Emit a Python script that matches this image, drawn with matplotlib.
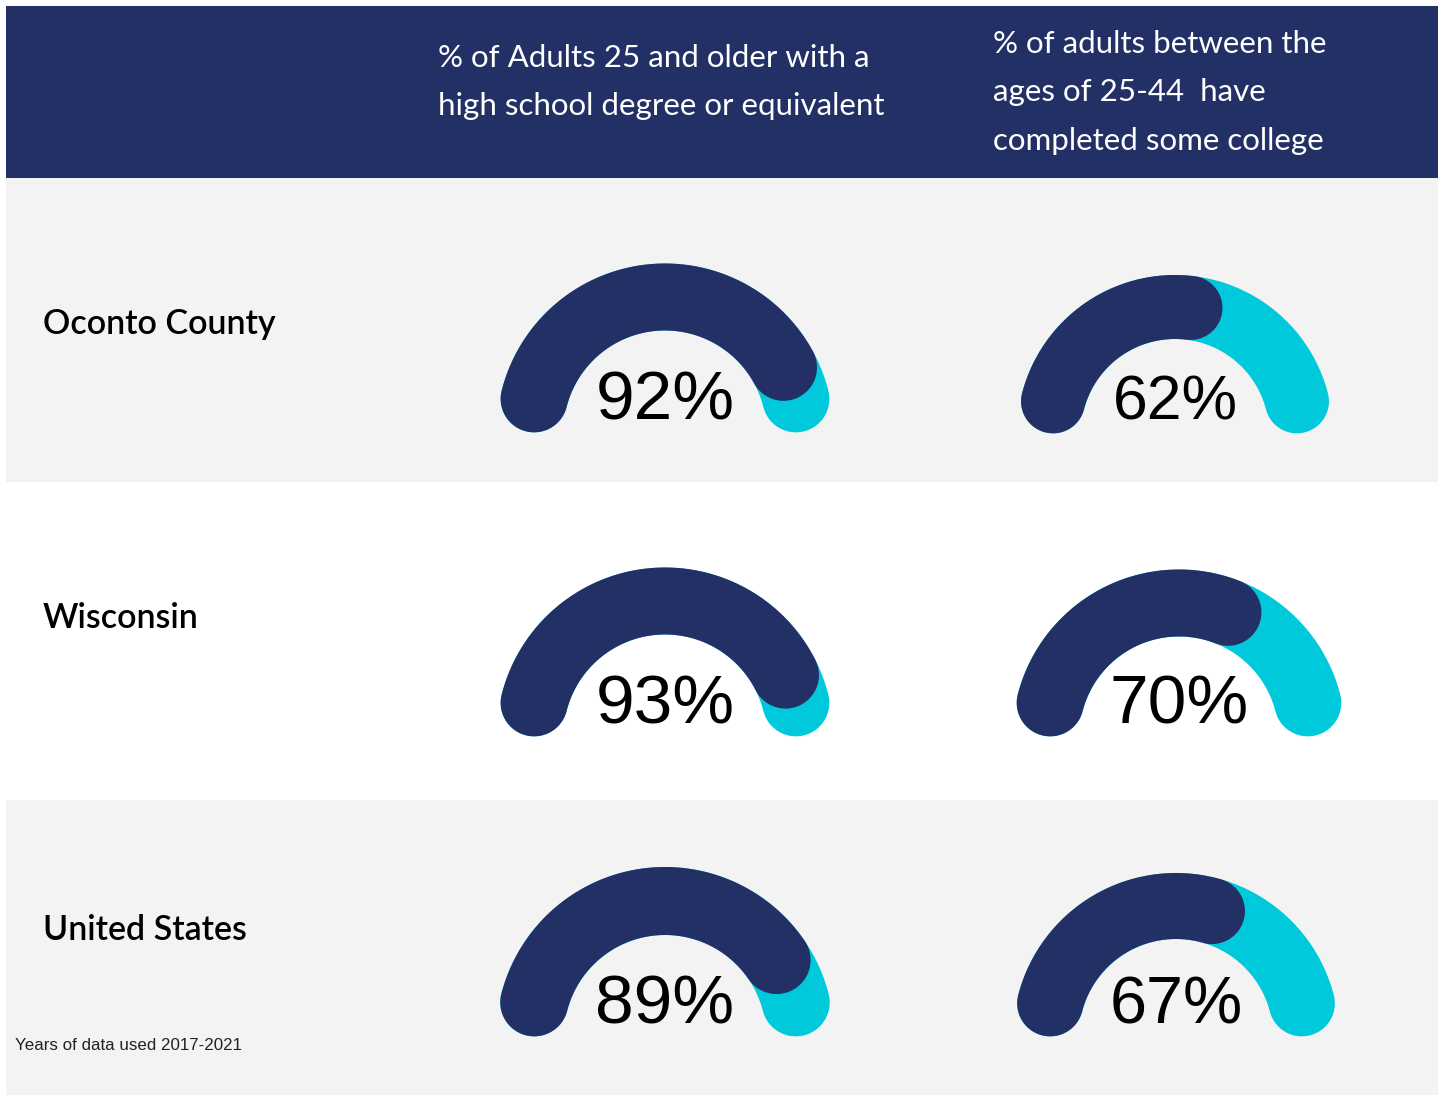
import matplotlib
matplotlib.use("Agg")
import matplotlib.pyplot as plt
from matplotlib.patches import Rectangle, Polygon
import numpy as np

# data
places = ["Oconto County", "Wisconsin", "United States"]
hs_degree = [92, 93, 89]          # % adults 25+ with high school degree or equivalent
some_college = [62, 70, 67]       # % adults 25-44 with some college
col_titles = ["% of Adults 25 and older with a\nhigh school degree or equivalent",
              "% of adults between the\nages of 25-44  have\ncompleted some college"]
footnote = "Years of data used 2017-2021"

NAVY = "#223066"
CYAN = "#00C9DB"
GRAY = "#F3F3F3"

W, H = 1442, 1096
fig = plt.figure(figsize=(W / 100, H / 100), dpi=100)
ax = fig.add_axes([0, 0, 1, 1])
ax.set_xlim(0, W)
ax.set_ylim(H, 0)
ax.axis("off")

# background bands
ax.add_patch(Rectangle((6, 6), 1432, 172, color=NAVY, lw=0))
ax.add_patch(Rectangle((6, 178), 1432, 304, color=GRAY, lw=0))
ax.add_patch(Rectangle((6, 800), 1432, 295, color=GRAY, lw=0))


def rounded_arc(cx, cy, R, w, t_start, t_end, n=120):
    # thick arc with round caps, angles in degrees, y axis pointing down
    h = w / 2
    ts, te = np.radians(t_start), np.radians(t_end)
    th = np.linspace(ts, te, n)
    outer = np.c_[cx + (R + h) * np.cos(th), cy - (R + h) * np.sin(th)]
    inner = np.c_[cx + (R - h) * np.cos(th[::-1]), cy - (R - h) * np.sin(th[::-1])]
    phi = np.linspace(0, np.pi, 40)
    # end cap
    ex, ey = cx + R * np.cos(te), cy - R * np.sin(te)
    u = np.array([np.cos(te), -np.sin(te)])
    f = np.array([np.sin(te), np.cos(te)])
    cap_e = np.array([ex, ey]) + h * (np.outer(np.cos(phi), u) + np.outer(np.sin(phi), f))
    # start cap
    sx, sy = cx + R * np.cos(ts), cy - R * np.sin(ts)
    u = np.array([np.cos(ts), -np.sin(ts)])
    b = -np.array([np.sin(ts), np.cos(ts)])
    cap_s = np.array([sx, sy]) + h * (np.outer(-np.cos(phi), u) + np.outer(np.sin(phi), b))
    return np.vstack([outer, cap_e, inner, cap_s])


def gauge(cx, cy, R, w, value, fs):
    d = np.degrees((w / 2) / R)
    ax.add_patch(Polygon(rounded_arc(cx, cy, R, w, 180 - d, d), color=CYAN, lw=0))
    ax.add_patch(Polygon(rounded_arc(cx, cy, R, w, 180 - d, 180 * (1 - value / 100) + d),
                         color=NAVY, lw=0))
    ax.text(cx, cy - 13, f"{value}%", ha="center", va="baseline", fontsize=fs,
            family="Liberation Sans", color="black")


# gauge layout: (cx, cy, R, w, fontsize)
col1 = [(665, 432, 135, 67, 50), (665, 736, 135, 67, 50), (665, 1036, 135, 68, 50)]
col2 = [(1175, 433, 126, 64, 45), (1179, 736, 133, 67, 50), (1176, 1036, 130, 66, 48)]

for i in range(3):
    cx, cy, R, w, fs = col1[i]
    gauge(cx, cy, R, w, hs_degree[i], fs)
    cx, cy, R, w, fs = col2[i]
    gauge(cx, cy, R, w, some_college[i], fs)

# row labels
label_y = [324, 618, 930]
for name, y in zip(places, label_y):
    ax.text(43, y, name, ha="left", va="center", fontsize=24.5, family="Lato",
            weight="semibold", color="black")

# header titles
ax.text(438, 58, col_titles[0].split("\n")[0], ha="left", va="center", fontsize=22.5,
        family="Lato", color="white")
ax.text(438, 106, col_titles[0].split("\n")[1], ha="left", va="center", fontsize=22.5,
        family="Lato", color="white")
for k, line in enumerate(col_titles[1].split("\n")):
    ax.text(993, 44 + 48.5 * k, line, ha="left", va="center", fontsize=22.5,
            family="Lato", color="white")

ax.text(15, 1045, footnote, ha="left", va="center", fontsize=12.2,
        family="Liberation Sans", color="#222222")

fig.savefig("out.png", dpi=100)
